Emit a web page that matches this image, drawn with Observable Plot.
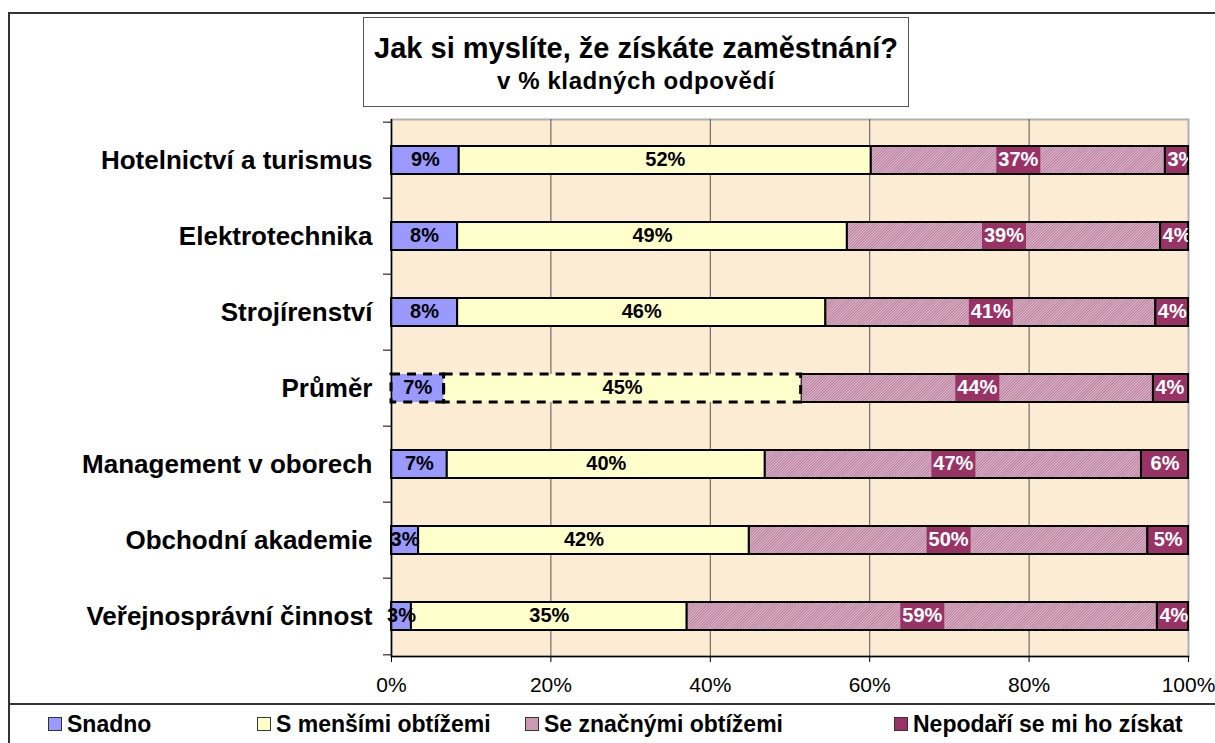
<!DOCTYPE html>
<html><head><meta charset="utf-8">
<script src="https://cdn.jsdelivr.net/npm/d3@7"></script>
<script src="https://cdn.jsdelivr.net/npm/@observablehq/plot@0.6"></script>
<style>
body{margin:0;background:#fff;font-family:"Liberation Sans",Arial,sans-serif;}
#wrap{position:relative;width:1215px;height:743px;overflow:hidden;}
#outer{position:absolute;left:8px;top:12px;width:1220px;height:800px;border:2px solid #333;box-sizing:border-box;pointer-events:none;}
#head{position:relative;height:115px;}
#title{position:absolute;left:363px;top:17px;width:546px;height:90px;border:1px solid #555;box-sizing:border-box;background:#fff;text-align:center;font-weight:bold;color:#000;}
#title .t1{font-size:29px;line-height:30px;margin-top:15px;}
#title .t2{font-size:24px;line-height:26px;margin-top:5px;letter-spacing:0.6px;}
#chart svg{display:block;}
#legend{position:absolute;left:8px;top:703px;width:1215px;height:60px;border:2px solid #333;box-sizing:border-box;background:#fff;}
#legend .item{position:absolute;top:6px;font-size:23px;font-weight:bold;white-space:nowrap;line-height:26px;}
#legend .item i{display:inline-block;width:12px;height:12px;border:1px solid #333;margin-right:5px;vertical-align:1px;}
</style>
</head><body>
<div id="wrap">
  <div id="head"><div id="title"><div class="t1">Jak si myslíte, že získáte zaměstnání?</div><div class="t2">v % kladných odpovědí</div></div></div>
  <div id="chart"></div>
  <div id="legend"></div>
  <div id="outer"></div>
</div>
<script>
const categories = ["Hotelnictví a turismus","Elektrotechnika","Strojírenství","Průměr","Management v oborech","Obchodní akademie","Veřejnosprávní činnost"];
const seriesNames = ["Snadno","S menšími obtížemi","Se značnými obtížemi","Nepodaří se mi ho získat"];
const snadno     = [8.5, 8.3, 8.3, 6.6, 7.0, 3.4, 2.5];
const smensimi   = [51.7, 48.9, 46.2, 44.8, 39.9, 41.5, 34.6];
const seZnacnymi = [36.9, 39.3, 41.4, 44.2, 47.2, 50.0, 59.0];
const nepodari   = [2.9, 3.5, 4.1, 4.4, 5.9, 5.1, 3.9];
const xTicks = [0, 20, 40, 60, 80, 100];
const xTickLabels = ["0%","20%","40%","60%","80%","100%"];
const averageCategory = "Průměr";

const seriesValues = [snadno, smensimi, seZnacnymi, nepodari];
const seriesColors = ["#9999ff", "#ffffcc", "url(#hatch)", "#993366"];
const legendSwatch = ["#9999ff", "#ffffcc", "#cc99b3", "#993366"];

const rows = [];
categories.forEach((cat, i) => {
  let acc = 0;
  seriesNames.forEach((s, si) => {
    const v = seriesValues[si][i];
    rows.push({cat, series: s, si, value: v, x1: acc, x2: acc + v, mid: acc + v / 2, label: Math.round(v) + "%"});
    acc += v;
  });
});

const plotH = 537, mTop = 4, mBottom = 46;
const step = plotH / categories.length;
const inset = 24;
const isAvgDashed = d => d.cat === averageCategory && d.si < 2;

const chart = Plot.plot({
  width: 1215, height: mTop + plotH + mBottom,
  marginLeft: 391, marginRight: 27, marginTop: mTop, marginBottom: mBottom,
  style: {fontFamily: "Liberation Sans, Arial, sans-serif", background: "transparent", overflow: "visible", color: "#000"},
  x: {domain: [0, 100], label: null},
  y: {domain: categories, padding: 0, label: null},
  color: {domain: seriesNames, range: seriesColors},
  marks: [
    Plot.frame({fill: "#fbecd3", stroke: "#b0b0b0", strokeWidth: 2}),
    Plot.ruleX([20, 40, 60, 80], {stroke: "#555", strokeWidth: 1}),
    Plot.barX(rows.filter(d => !isAvgDashed(d)), {x1: "x1", x2: "x2", y: "cat", fill: "series", stroke: "#000", strokeWidth: 2, insetTop: inset, insetBottom: inset}),
    Plot.barX(rows.filter(isAvgDashed), {x1: "x1", x2: "x2", y: "cat", fill: "series", insetTop: inset, insetBottom: inset}),
    Plot.barX(rows.filter(isAvgDashed), {x1: "x1", x2: "x2", y: "cat", fill: "none", stroke: "#000", strokeWidth: 3, strokeDasharray: "9,7", insetTop: inset, insetBottom: inset}),
    Plot.ruleX([0], {stroke: "#000", strokeWidth: 1.5}),
    Plot.frame({anchor: "bottom", stroke: "#000", strokeWidth: 1.5}),
    Plot.axisX({ticks: xTicks, tickSize: 6, tickPadding: 15, fontSize: 21, tickFormat: d => xTickLabels[xTicks.indexOf(d)], label: null}),
    Plot.axisY({tickSize: 0, tickPadding: 19, fontSize: 26, fontWeight: "bold", label: null}),
    Plot.axisY({text: null, tickSize: 8, dy: -step / 2, label: null}),
    Plot.axisY([categories[categories.length - 1]], {text: null, tickSize: 8, dy: step / 2, label: null}),
    Plot.text(rows.filter(d => d.si < 2), {x: "mid", y: "cat", text: "label", fill: "#000", fontWeight: "bold", fontSize: 20, dy: -1}),
    Plot.tickX(rows.filter(d => d.si === 2), {x: "mid", y: "cat", stroke: "#993366", strokeWidth: 44, insetTop: inset + 1, insetBottom: inset + 1}),
    Plot.text(rows.filter(d => d.si === 2), {x: "mid", y: "cat", text: "label", fill: "#fff", fontWeight: "bold", fontSize: 20, dy: -1}),
    Plot.text(rows.filter(d => d.si === 3 && d.value >= 4.5), {x: "mid", y: "cat", text: "label", fill: "#fff", fontWeight: "bold", fontSize: 20, dy: -1, clip: true}),
    Plot.text(rows.filter(d => d.si === 3 && d.value < 4.5), {x: "x1", y: "cat", text: "label", fill: "#fff", fontWeight: "bold", fontSize: 20, dy: -1, textAnchor: "start", dx: 2, clip: true})
  ]
});

const defs = d3.select(chart).insert("defs", ":first-child");
const pat = defs.append("pattern").attr("id", "hatch").attr("patternUnits", "userSpaceOnUse")
  .attr("width", 2).attr("height", 2).attr("patternTransform", "rotate(45)");
pat.append("rect").attr("width", 2).attr("height", 2).attr("fill", "#e0bcd0");
pat.append("rect").attr("width", 1).attr("height", 2).attr("fill", "#b67a98");

document.getElementById("chart").appendChild(chart);

const legendLeft = [38, 247, 515, 884];
const legend = d3.select("#legend");
seriesNames.forEach((s, i) => {
  const it = legend.append("span").attr("class", "item").style("left", legendLeft[i] + "px");
  it.append("i").style("background", legendSwatch[i]);
  it.append("span").text(s);
});
</script>
</body></html>
